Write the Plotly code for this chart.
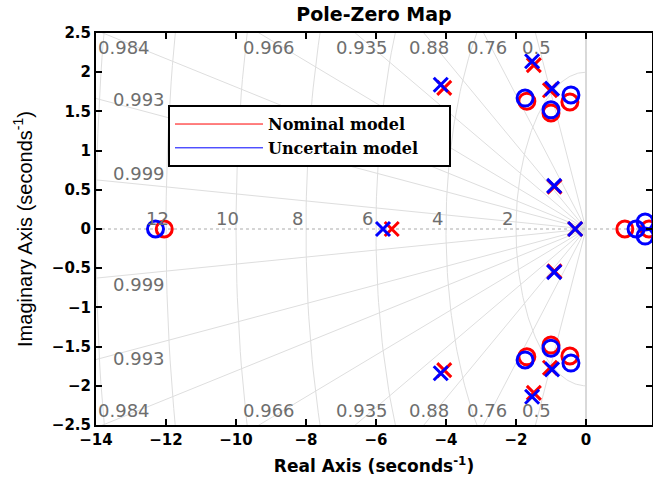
import numpy as np
import plotly.graph_objects as go

# ---------------- data ----------------
nominal_poles_re = [-4.05, -4.05, -1.49, -1.49, -1.03, -1.03, -0.90, -0.90, -5.55, -0.31]
nominal_poles_im = [1.80, -1.80, 2.09, -2.09, 1.77, -1.77, 0.54, -0.54, 0.0, 0.0]
uncertain_poles_re = [-4.15, -4.15, -1.54, -1.54, -0.97, -0.97, -0.91, -0.91, -5.80, -0.31]
uncertain_poles_im = [1.84, -1.84, 2.14, -2.14, 1.79, -1.79, 0.55, -0.55, 0.0, 0.0]

nominal_zeros_re = [-1.69, -1.69, -1.00, -1.00, -0.46, -0.46, -12.05, 1.11, 1.80]
nominal_zeros_im = [1.63, -1.63, 1.48, -1.48, 1.62, -1.62, 0.0, 0.0, 0.0]
uncertain_zeros_re = [-1.74, -1.74, -1.00, -1.00, -0.43, -0.43, -12.30, 1.43, 1.69, 1.69]
uncertain_zeros_im = [1.67, -1.67, 1.52, -1.52, 1.71, -1.71, 0.0, 0.0, 0.09, -0.09]

damping_top = [0.5, 0.76, 0.88, 0.935, 0.966, 0.984]
damping_left = [0.993, 0.999]
natural_freqs = [2, 4, 6, 8, 10, 12, 14]
freq_labels = [2, 4, 6, 8, 10, 12]

x_ticks = [-14, -12, -10, -8, -6, -4, -2, 0, 2]
y_ticks = [-2.5, -2, -1.5, -1, -0.5, 0, 0.5, 1, 1.5, 2, 2.5]

legend_names = ["Nominal model", "Uncertain model"]

X_MIN, X_MAX = -14, 1.886
Y_MIN, Y_MAX = -2.5, 2.5

GRID = "#dedede"
LABEL = "#6e6e6e"
RED = "rgb(255,0,0)"
BLUE = "rgb(0,0,255)"

fig = go.Figure()

# ---------------- s-plane grid ----------------
gx, gy = [], []
for z in damping_top + damping_left:
    R = 40.0
    for s in (1, -1):
        gx += [0, -R * z, None]
        gy += [0, s * R * np.sqrt(1 - z * z), None]
th = np.linspace(np.pi / 2, 3 * np.pi / 2, 181)
for wn in natural_freqs:
    gx += list(wn * np.cos(th)) + [None]
    gy += list(wn * np.sin(th)) + [None]
fig.add_trace(go.Scatter(x=gx, y=gy, mode="lines", line=dict(color=GRID, width=1),
                         hoverinfo="skip", showlegend=False))
# imaginary axis line
fig.add_trace(go.Scatter(x=[0, 0], y=[Y_MIN, Y_MAX], mode="lines",
                         line=dict(color="#d9d9d9", width=2), hoverinfo="skip", showlegend=False))
# real axis dotted
fig.add_trace(go.Scatter(x=[X_MIN, X_MAX], y=[0, 0], mode="lines",
                         line=dict(color="#c8c8c8", width=1.5, dash="dot"), hoverinfo="skip", showlegend=False))

# ---------------- pole / zero markers ----------------
def add_pz(re, im, color, symbol, size, name):
    fig.add_trace(go.Scatter(
        x=re, y=im, mode="markers", name=name, showlegend=False,
        marker=dict(symbol=symbol, size=size, color=color,
                    line=dict(color=color, width=3))))

add_pz(nominal_zeros_re, nominal_zeros_im, RED, "circle-open", 16, "Nominal zeros")
add_pz(nominal_poles_re, nominal_poles_im, RED, "x-thin", 14, "Nominal poles")
add_pz(uncertain_zeros_re, uncertain_zeros_im, BLUE, "circle-open", 16, "Uncertain zeros")
add_pz(uncertain_poles_re, uncertain_poles_im, BLUE, "x-thin", 14, "Uncertain poles")

# legend entries (lines)
pad = "&nbsp;" * 5
fig.add_trace(go.Scatter(x=[None], y=[None], mode="lines", name=f"<b>{legend_names[0]}</b>{pad}",
                         line=dict(color=RED, width=1)))
fig.add_trace(go.Scatter(x=[None], y=[None], mode="lines", name=f"<b>{legend_names[1]}</b>{pad}",
                         line=dict(color=BLUE, width=1)))

# ---------------- grid labels ----------------
ann = []
lab_font = dict(family="DejaVu Sans", size=18, color=LABEL)
for z in damping_top:
    xt = max(-2.5 * z / np.sqrt(1 - z * z) * 0.97, -13.2)
    for yy in (2.31, -2.31):
        ann.append(dict(x=xt, y=yy, text=f"{z:g}", showarrow=False, font=lab_font,
                        xanchor="center", yanchor="middle"))
for z in damping_left:
    yl = 14 * np.sqrt(1 - z * z) / z * 0.9 + 0.15
    for s in (1, -1):
        ann.append(dict(x=-12.76, y=s * yl, text=f"{z:g}", showarrow=False, font=lab_font,
                        xanchor="center", yanchor="middle"))
for wn in freq_labels:
    ann.append(dict(x=-wn - 0.25, y=0.14, text=str(wn), showarrow=False, font=lab_font,
                    xanchor="center", yanchor="middle"))

tick_font = dict(family="DejaVu Sans", size=15, color="black", weight="bold")
axis_common = dict(showline=True, linecolor="black", linewidth=2, mirror="ticks",
                   ticks="inside", ticklen=6, tickwidth=1.5, tickcolor="black",
                   showgrid=False, zeroline=False, tickfont=tick_font, automargin=False)

fig.update_layout(
    width=653, height=482,
    margin=dict(l=96, r=1, t=33, b=57, autoexpand=False),
    plot_bgcolor="white", paper_bgcolor="white",
    title=dict(text="<b>Pole-Zero Map</b>", x=0.5, xref="paper", y=1 - 14 / 482,
               yref="container", xanchor="center", yanchor="middle",
               font=dict(family="DejaVu Sans", size=19, color="black")),
    xaxis=dict(range=[X_MIN, X_MAX], tickvals=x_ticks,
               title=dict(text="<b>Real Axis (seconds<sup>-1</sup>)</b>", standoff=12,
                          font=dict(family="DejaVu Sans", size=17, color="black")),
               **axis_common),
    yaxis=dict(range=[Y_MIN, Y_MAX], tickvals=y_ticks,
               title=dict(text="Imaginary Axis (seconds<sup>-1</sup>)", standoff=14,
                          font=dict(family="Liberation Sans", size=20, color="black")),
               **axis_common),
    legend=dict(x=0.1295, y=0.816, xanchor="left", yanchor="top", bgcolor="white",
                bordercolor="black", borderwidth=2, itemwidth=88,
                font=dict(family="DejaVu Serif", size=16, color="black"),
                tracegroupgap=0),
    annotations=ann,
)

fig.write_html(
    "out.html",
    config={"displayModeBar": False},
    post_script="document.body.style.margin='0';document.body.style.overflow='hidden';",
)
